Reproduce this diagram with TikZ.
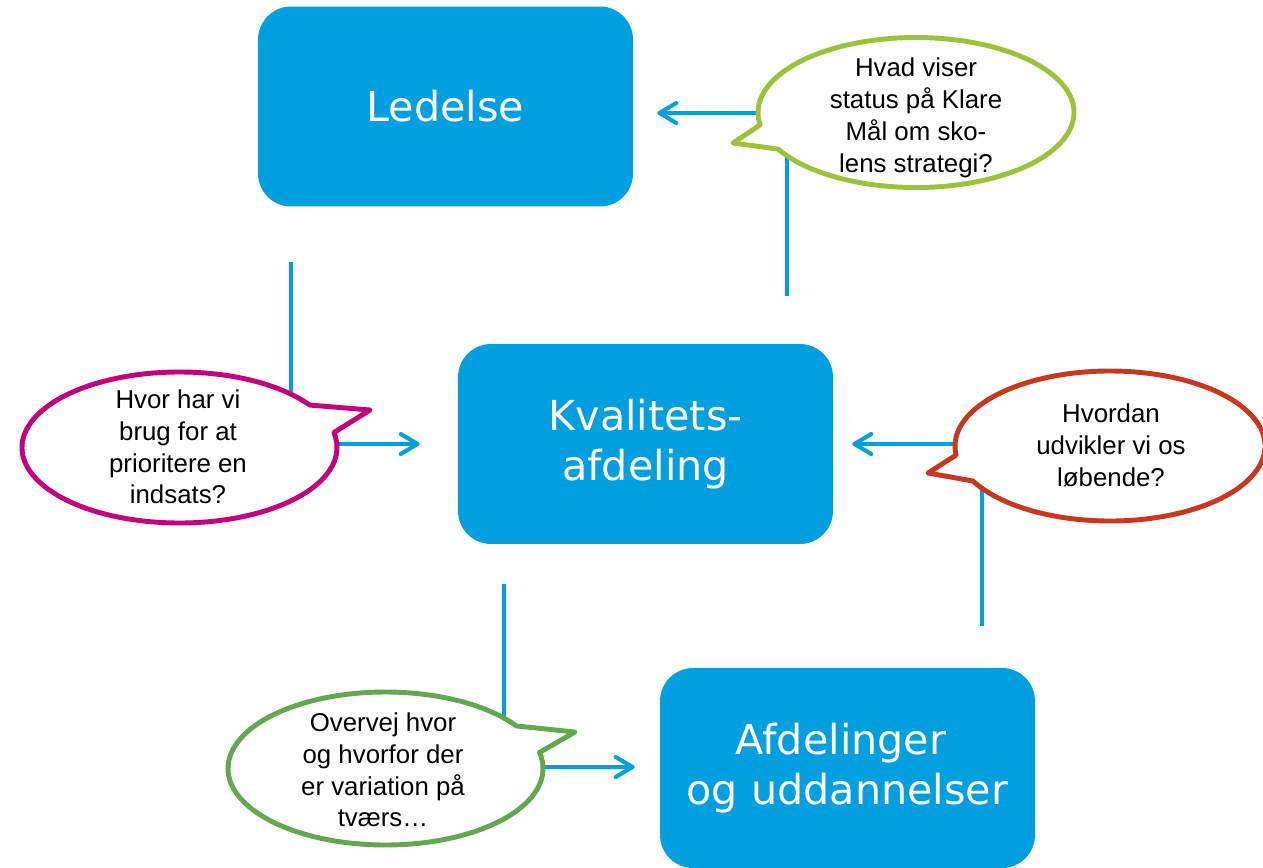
\documentclass[tikz,border=0pt]{standalone}
\usepackage{fontspec}
\setmainfont{Liberation Sans}
\newfontfamily\boxfont{DejaVu Sans}
\usetikzlibrary{arrows.meta}
\definecolor{boxblue}{RGB}{0,159,224}
\definecolor{lightgreen}{RGB}{158,193,58}
\definecolor{darkgreen}{RGB}{98,168,78}
\definecolor{berry}{RGB}{196,0,125}
\definecolor{rust}{RGB}{200,55,30}
\begin{document}
\begin{tikzpicture}[x=0.02cm,y=0.02cm,>={Straight Barb[length=0.34cm,width=0.4cm,round]},
    box/.style={rectangle,rounded corners=0.66cm,fill=boxblue,text=white,minimum width=7.5cm,minimum height=4cm,align=center,font=\boxfont\fontsize{23.5}{28.3}\selectfont},
    flow/.style={->,boxblue,line width=2.3pt},
    bubble/.style={fill=white,line width=2.8pt,line join=round},
    qtext/.style={align=center,inner sep=0pt,font=\fontsize{14.7}{18.1}\selectfont}]
    \useasboundingbox (0,0) rectangle (1263,867);
    \node (ledelse) at (445.5,760.5) [box]{Ledelse};
    \node (kval) at (645.5,423) [box]{Kvalitets-\\afdeling};
    \node (afd) at (847.5,99) [box]{Afdelinger\hspace*{7.5pt}\\og uddannelser};
    \draw [flow] ([xshift=0.66cm,yshift=-1.11cm]ledelse.south west) |- ([xshift=-0.76cm]kval.west);
    \draw [flow] ([xshift=0.92cm,yshift=-0.8cm]kval.south west) |- ([xshift=-0.5cm,yshift=0.02cm]afd.west);
    \draw [flow] ([xshift=-1.06cm,yshift=0.84cm]afd.north east) |- ([xshift=0.38cm]kval.east);
    \draw [flow] ([xshift=-0.92cm,yshift=0.96cm]kval.north east) |- ([xshift=0.48cm,yshift=-0.13cm]ledelse.east);
    \coordinate (c1) at (916,754.5);
    \coordinate (c2) at (179.5,419.5);
    \coordinate (c3) at (385.5,98.5);
    \coordinate (c4) at (1110,421);
    \draw [bubble,draw=lightgreen] (c1) ++(209.2:158 and 75) arc[start angle=209.2,end angle=549.5,x radius=158,y radius=75] -- (733,724) -- cycle;
    \draw [bubble,draw=berry] (c2) ++(34.2:157.5 and 75.5) arc[start angle=34.2,end angle=371.4,x radius=157.5,y radius=75.5] -- (370,457) -- cycle;
    \draw [bubble,draw=darkgreen] (c3) ++(33.8:157.5 and 76.5) arc[start angle=33.8,end angle=372.1,x radius=157.5,y radius=76.5] -- (575,135) -- cycle;
    \draw [bubble,draw=rust] (c4) ++(207.8:155 and 75) arc[start angle=207.8,end angle=546.9,x radius=155,y radius=75] -- (928,394) -- cycle;
    \node (q1) at (916,749) [qtext]{Hvad viser\\status på Klare\\Mål om sko-\\lens strategi?};
    \node (q2) at (178,420) [qtext]{Hvor har vi\\brug for at\\prioritere en\\indsats?};
    \node (q3) at (383,97) [qtext]{Overvej hvor\\og hvorfor der\\er variation på\\tværs…};
    \node (q4) at (1111,421.5) [qtext]{Hvordan\\udvikler vi os\\løbende?};
\end{tikzpicture}
\end{document}
